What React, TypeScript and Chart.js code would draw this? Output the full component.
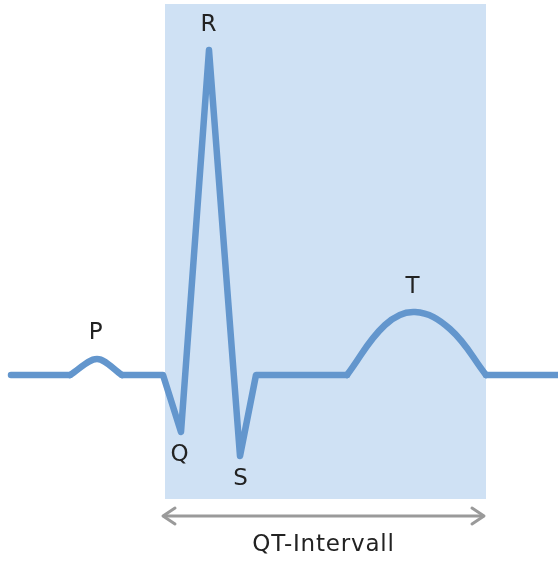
import React, { useEffect, useRef } from "react";
import { Chart, registerables } from "chart.js";

Chart.register(...registerables);

// time in ms, amplitude in mV
// straight segments (P and T waves drawn separately, smooth)
const lineTimes = [22, 140, null, 244, 326, 362, 418, 480, 512, 694, null, 972, 1116];
const lineValues = [0, 0, null, 0, 0, -0.285, 1.625, -0.405, 0, 0, null, 0, 0];
const pTimes = [140, 194, 244];
const pValues = [0, 0.08, 0];
const tTimes = [694, 770, 830, 900, 972];
const tValues = [0, 0.25, 0.315, 0.23, 0];

const waveLabels = ["P", "R", "Q", "S", "T"];
const labelTimes = [192, 418, 360, 482, 826];
const labelValues = [0.21, 1.75, -0.4, -0.52, 0.44];

const qtStart = 330;
const qtEnd = 972;
const qtTop = 1.855;
const qtBottom = -0.62;
const arrowStart = 326;
const arrowEnd = 968;
const arrowValue = -0.705;
const intervalLabel = "QT-Intervall";
const intervalLabelValue = -0.85;

const LINE = "#6396cd";
const FONT = "23px 'DejaVu Sans', Verdana, sans-serif";

function toPoints(xs: (number | null)[], ys: (number | null)[]) {
  return xs.map((x, i) => ({ x: x as any, y: ys[i] as any }));
}

const ecgPlugin = {
  id: "ecgDecor",
  beforeDatasetsDraw(chart: any) {
    const { ctx, scales } = chart;
    const xs = scales.x;
    const ys = scales.y;
    const x0 = xs.getPixelForValue(qtStart);
    const x1 = xs.getPixelForValue(qtEnd);
    const y0 = ys.getPixelForValue(qtTop);
    const y1 = ys.getPixelForValue(qtBottom);
    ctx.save();
    ctx.fillStyle = "#cfe1f4";
    ctx.fillRect(x0, y0, x1 - x0, y1 - y0);
    ctx.restore();
  },
  afterDatasetsDraw(chart: any) {
    const { ctx, scales } = chart;
    const xs = scales.x;
    const ys = scales.y;
    ctx.save();
    // arrow
    const ax0 = xs.getPixelForValue(arrowStart);
    const ax1 = xs.getPixelForValue(arrowEnd);
    const ay = ys.getPixelForValue(arrowValue);
    ctx.strokeStyle = "#9a9a9a";
    ctx.lineWidth = 3;
    ctx.lineCap = "round";
    ctx.lineJoin = "round";
    ctx.beginPath();
    ctx.moveTo(ax0 + 1, ay);
    ctx.lineTo(ax1 - 1, ay);
    ctx.stroke();
    ctx.beginPath();
    ctx.moveTo(ax0 + 12, ay - 8);
    ctx.lineTo(ax0, ay);
    ctx.lineTo(ax0 + 12, ay + 8);
    ctx.stroke();
    ctx.beginPath();
    ctx.moveTo(ax1 - 12, ay - 8);
    ctx.lineTo(ax1, ay);
    ctx.lineTo(ax1 - 12, ay + 8);
    ctx.stroke();
    // labels
    ctx.fillStyle = "#222";
    ctx.font = FONT;
    try {
      (ctx as any).letterSpacing = "0.8px";
    } catch (e) {}
    ctx.textAlign = "center";
    ctx.textBaseline = "middle";
    waveLabels.forEach((l, i) => {
      ctx.fillText(l, xs.getPixelForValue(labelTimes[i]), ys.getPixelForValue(labelValues[i]));
    });
    ctx.fillText(
      intervalLabel,
      xs.getPixelForValue((arrowStart + arrowEnd) / 2),
      ys.getPixelForValue(intervalLabelValue)
    );
    ctx.restore();
  },
};

export default function App() {
  const ref = useRef<HTMLCanvasElement | null>(null);
  useEffect(() => {
    if (!ref.current) return;
    const common = {
      borderColor: LINE,
      borderWidth: 6.5,
      pointRadius: 0,
      borderCapStyle: "round",
      borderJoinStyle: "round",
      fill: false,
    };
    const chart = new Chart(ref.current, {
      type: "line",
      data: {
        datasets: [
          { ...common, data: toPoints(lineTimes, lineValues), tension: 0, spanGaps: false } as any,
          { ...common, data: toPoints(pTimes, pValues), cubicInterpolationMode: "monotone" } as any,
          { ...common, data: toPoints(tTimes, tValues), tension: 0.4 } as any,
        ],
      },
      options: {
        animation: false,
        responsive: false,
        events: [],
        layout: { padding: 0 },
        plugins: { legend: { display: false }, tooltip: { enabled: false } },
        scales: {
          x: { type: "linear", min: 0, max: 1116, display: false },
          y: { type: "linear", min: -0.94, max: 1.875, display: false },
        },
      },
      plugins: [ecgPlugin],
    } as any);
    return () => chart.destroy();
  }, []);
  return (
    <div style={{ position: "absolute", left: 0, top: 0, width: 558, height: 563, background: "#fff" }}>
      <canvas ref={ref} width={558} height={563} style={{ display: "block" }} />
    </div>
  );
}
